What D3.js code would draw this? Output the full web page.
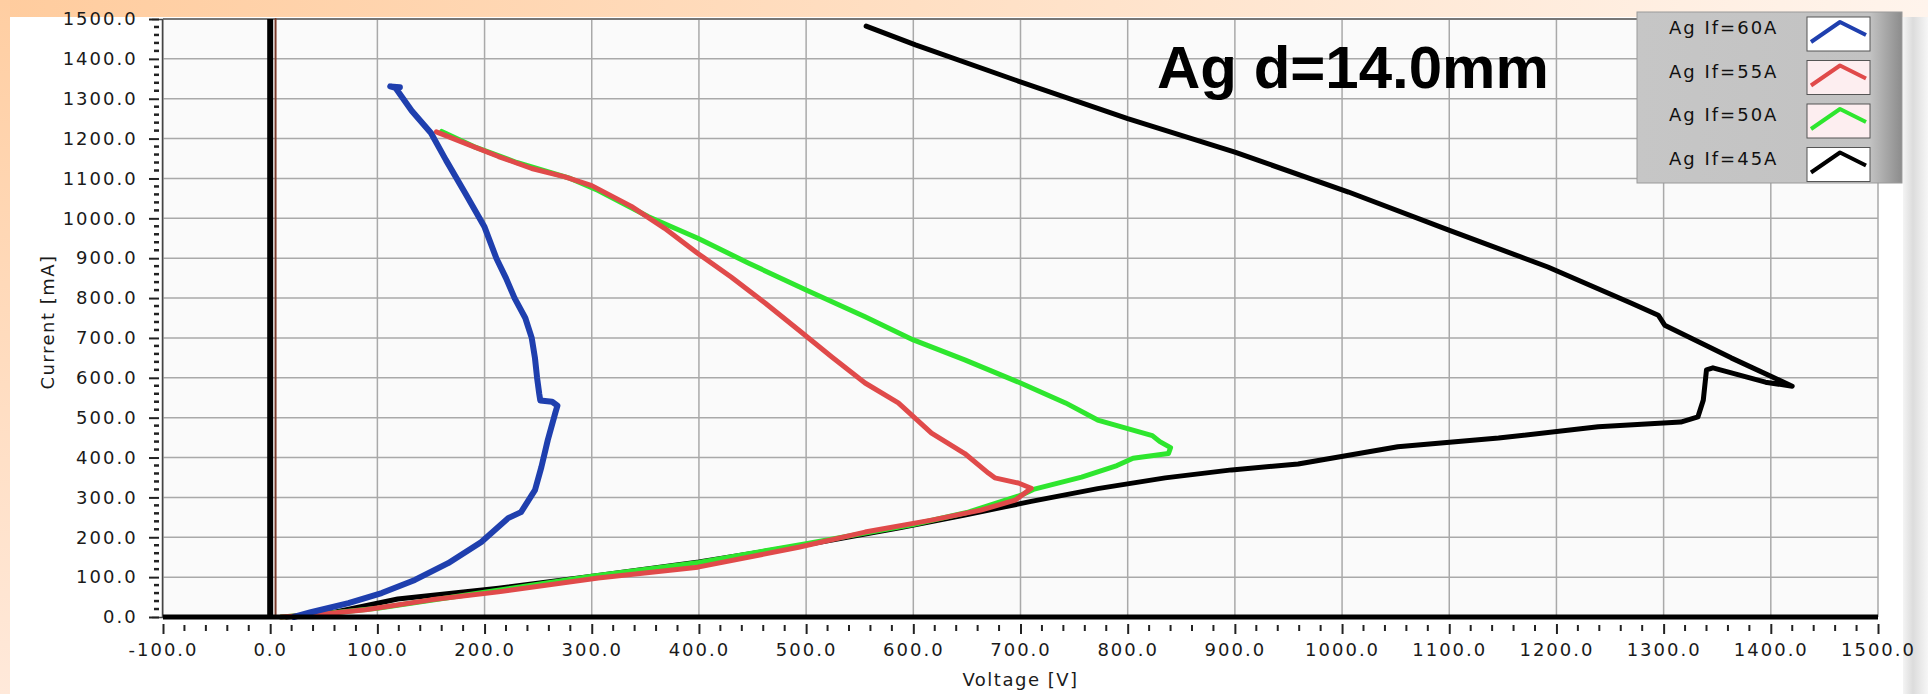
<!DOCTYPE html>
<html>
<head>
<meta charset="utf-8">
<title>Ag d=14.0mm</title>
<style>
  body { margin: 0; background: #fff; }
  svg { display: block; }
  .tick-label { font-family: "DejaVu Sans", sans-serif; font-size: 18px; letter-spacing: 2px; fill: #1a1a1a; }
  .axis-title { font-family: "DejaVu Sans", sans-serif; font-size: 18px; letter-spacing: 1.5px; fill: #1a1a1a; }
  .legend-label { font-family: "DejaVu Sans", sans-serif; font-size: 18px; letter-spacing: 2px; fill: #111; }
</style>
</head>
<body>
<svg class="chart"></svg>
<script src="https://cdn.jsdelivr.net/npm/d3@7/dist/d3.min.js"></script>
<script>
// voltage [V], current [mA] pairs
var if60 = [[22,0],[38,12],[73,35],[104,60],[135,93],[166,135],[197,188],[222,248],[234,263],[247,318],
  [253,376],[259,444],[266,512],[268,530],[263,540],[252,543],[251,560],[249,600],[247,650],[244,700],[238,750],
  [228,800],[220,850],[211,900],[200,978],[182,1063],[164,1146],[150,1214],[132,1270],[117,1327],[112,1331],[121,1329]];
var if55 = [[10,0],[45,6],[89,18],[150,43],[213,63],[306,98],[399,125],[493,175],[555,213],[617,243],
  [663,268],[695,293],[710,323],[698,336],[676,349],[670,361],[648,410],[617,461],[586,537],[555,587],
  [524,652],[493,720],[462,787],[430,853],[399,912],[368,975],[337,1030],[300,1082],[275,1104],[244,1125],
  [213,1155],[182,1188],[155,1217]];
var if50 = [[10,0],[50,8],[100,22],[200,62],[300,102],[400,137],[500,184],[600,232],[650,262],[700,305],
  [712,320],[757,351],[790,380],[805,398],[838,410],[840,425],[830,440],[823,455],[772,494],[742,537],
  [700,587],[648,645],[600,695],[555,753],[500,820],[446,888],[399,950],[353,1004],[306,1070],[280,1100],
  [230,1140],[190,1180],[160,1218]];
var if45 = [[15,0],[60,12],[119,45],[213,72],[306,104],[400,138],[493,178],[586,223],[648,256],[710,290],
  [772,322],[835,349],[897,369],[959,384],[1052,427],[1146,449],[1239,477],[1316,489],[1332,502],[1337,544],
  [1340,620],[1346,625],[1395,589],[1420,579],[1363,650],[1301,732],[1295,757],[1270,787],[1192,878],
  [1099,971],[1006,1066],[900,1166],[800,1250],[695,1347],[602,1435],[556,1482]];

// flat traces sitting on the axes
var zeroCurrent = [[-100,0],[1500,0]];
var zeroVoltage = [[0,0],[0,1500]];
var offsetVoltage = [[5,0],[5,1500]];

var seriesNames = ["Ag If=60A", "Ag If=55A", "Ag If=50A", "Ag If=45A"];
var seriesColors = ["#1f3fae", "#e04a4a", "#2ee62e", "#000000"];
var seriesData = [if60, if55, if50, if45];

var xTicks = d3.range(-100, 1501, 100);
var yTicks = d3.range(0, 1501, 100);

var width = 1928, height = 694;
var svg = d3.select(".chart").attr("width", width).attr("height", height);

var defs = svg.append("defs");
var topGrad = defs.append("linearGradient").attr("id", "topband");
topGrad.append("stop").attr("offset", "0%").attr("stop-color", "#ffcc9e");
topGrad.append("stop").attr("offset", "100%").attr("stop-color", "#fff4ec");
var leftGrad = defs.append("linearGradient").attr("id", "leftband")
  .attr("x1", 0).attr("y1", 0).attr("x2", 0).attr("y2", 1);
leftGrad.append("stop").attr("offset", "0%").attr("stop-color", "#ffcea2");
leftGrad.append("stop").attr("offset", "100%").attr("stop-color", "#ffe9da");
var rightGrad = defs.append("linearGradient").attr("id", "rightband");
rightGrad.append("stop").attr("offset", "0%").attr("stop-color", "#f4f4f4");
rightGrad.append("stop").attr("offset", "40%").attr("stop-color", "#dcdcdc");
rightGrad.append("stop").attr("offset", "100%").attr("stop-color", "#f6f6f6");
var legGrad = defs.append("linearGradient").attr("id", "legshade");
legGrad.append("stop").attr("offset", "0%").attr("stop-color", "#c6c6c6");
legGrad.append("stop").attr("offset", "88%").attr("stop-color", "#c2c2c2");
legGrad.append("stop").attr("offset", "100%").attr("stop-color", "#8c8c8c");

// frame around the panel
svg.append("rect").attr("x", 0).attr("y", 0).attr("width", width).attr("height", 17).attr("fill", "url(#topband)");
svg.append("rect").attr("x", 0).attr("y", 0).attr("width", 10).attr("height", height).attr("fill", "url(#leftband)");
svg.append("rect").attr("x", 1903).attr("y", 17).attr("width", 25).attr("height", height - 17).attr("fill", "url(#rightband)");

var x = d3.scaleLinear().domain([-100, 1500]).range([163, 1878]);
var y = d3.scaleLinear().domain([0, 1500]).range([617, 19]);

svg.append("rect")
  .attr("x", x(-100)).attr("y", y(1500))
  .attr("width", x(1500) - x(-100)).attr("height", y(0) - y(1500))
  .attr("fill", "#fafafa");

// grid
var grid = svg.append("g").attr("stroke", "#a9a9a9").attr("stroke-width", 1.5);
grid.selectAll(".vg").data(xTicks).enter().append("line")
  .attr("x1", function(d) { return x(d); }).attr("x2", function(d) { return x(d); })
  .attr("y1", y(0)).attr("y2", y(1500));
grid.selectAll(".hg").data(yTicks).enter().append("line")
  .attr("x1", x(-100)).attr("x2", x(1500))
  .attr("y1", function(d) { return y(d); }).attr("y2", function(d) { return y(d); });
svg.append("line").attr("x1", x(-100)).attr("x2", x(1500)).attr("y1", y(1500)).attr("y2", y(1500))
  .attr("stroke", "#777").attr("stroke-width", 2);

// plain hyphen for negatives, like the original
var fmt = function(d) { return d3.format(".1f")(d).replace("\u2212", "-"); };

// y axis
var yAxis = d3.axisLeft(y).tickValues(yTicks).tickSize(10).tickPadding(6).tickFormat(fmt);
var yg = svg.append("g").attr("transform", "translate(" + (x(-100) - 4) + ",0)").call(yAxis);
yg.select(".domain").attr("stroke", "#444").attr("stroke-width", 1.5).attr("transform", "translate(3,0)");
yg.selectAll(".tick line").attr("stroke", "#222").attr("stroke-width", 2);
yg.selectAll(".tick text").attr("class", "tick-label").attr("dx", "-0.3em");
yg.selectAll(".minor").data(d3.range(0, 1500, 20).filter(function(d) { return d % 100 !== 0; }))
  .enter().append("line").attr("class", "minor")
  .attr("x1", -5).attr("x2", 0)
  .attr("y1", function(d) { return y(d); }).attr("y2", function(d) { return y(d); })
  .attr("stroke", "#222").attr("stroke-width", 2.5);

// x axis
var xAxis = d3.axisBottom(x).tickValues(xTicks).tickSize(10).tickPadding(9).tickFormat(fmt);
var xg = svg.append("g").attr("transform", "translate(0," + (y(0) + 7) + ")").call(xAxis);
xg.select(".domain").remove();
xg.selectAll(".tick line").attr("stroke", "#222").attr("stroke-width", 2);
xg.selectAll(".tick text").attr("class", "tick-label");
xg.selectAll(".minor").data(d3.range(-100, 1500, 20).filter(function(d) { return d % 100 !== 0; }))
  .enter().append("line").attr("class", "minor")
  .attr("x1", function(d) { return x(d); }).attr("x2", function(d) { return x(d); })
  .attr("y1", 1).attr("y2", 7)
  .attr("stroke", "#222").attr("stroke-width", 2);

svg.append("text").attr("class", "axis-title")
  .attr("transform", "translate(54,322) rotate(-90)")
  .attr("text-anchor", "middle").text("Current [mA]");
svg.append("text").attr("class", "axis-title")
  .attr("x", (x(-100) + x(1500)) / 2).attr("y", 686)
  .attr("text-anchor", "middle").text("Voltage [V]");

var line = d3.line().x(function(d) { return x(d[0]); }).y(function(d) { return y(d[1]); });
var plot = svg.append("g").attr("fill", "none").attr("stroke-linejoin", "round").attr("stroke-linecap", "round");

plot.append("path").datum(offsetVoltage).attr("d", line).attr("stroke", "#7a3a2a").attr("stroke-width", 2);
plot.append("path").datum(zeroVoltage).attr("d", line).attr("stroke", "#000").attr("stroke-width", 6).attr("stroke-linecap", "butt");

// later plots are drawn under earlier ones
[3, 2, 1, 0].forEach(function(i) {
  plot.append("path").datum(seriesData[i]).attr("d", line)
    .attr("stroke", seriesColors[i]).attr("stroke-width", i === 0 ? 6 : 5);
});

plot.append("path").datum(zeroCurrent).attr("d", line).attr("stroke", "#000").attr("stroke-width", 5).attr("stroke-linecap", "butt");

svg.append("text").attr("x", 1157).attr("y", 88)
  .style("font-family", "'Liberation Sans', Arial, sans-serif").style("font-weight", "bold")
  .style("font-size", "60px").attr("fill", "#000").text("Ag d=14.0mm");

// legend
var legend = svg.append("g");
legend.append("rect").attr("x", 1637).attr("y", 12).attr("width", 265).attr("height", 171)
  .attr("fill", "url(#legshade)").attr("stroke", "#9a9a9a");
var rows = legend.selectAll(".row").data(seriesNames).enter().append("g")
  .attr("transform", function(d, i) { return "translate(0," + (i * 43.5) + ")"; });
rows.append("text").attr("class", "legend-label").attr("x", 1669).attr("y", 34).text(function(d) { return d; });
rows.append("rect").attr("x", 1807).attr("y", 17).attr("width", 63).attr("height", 34)
  .attr("fill", function(d, i) { return (i === 1 || i === 2) ? "#fdeef0" : "#ffffff"; })
  .attr("stroke", "#555").attr("stroke-width", 1);
rows.append("path")
  .attr("d", "M1811,42 L1840,22 L1866,35")
  .attr("fill", "none").attr("stroke-width", 4).attr("stroke-linejoin", "round")
  .attr("stroke", function(d, i) { return seriesColors[i]; });
</script>
</body>
</html>
